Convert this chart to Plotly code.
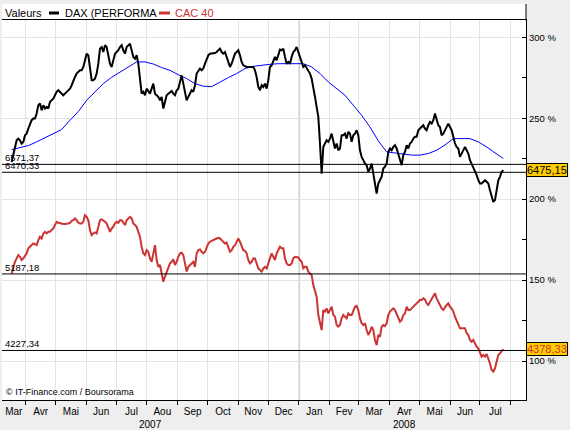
import pandas as pd
import plotly.graph_objects as go

# ---------------- data (values in % of the right-hand axis) ----------------
SERIES_START = "2007-03-17 22:00"
SERIES_END = "2008-07-24 14:00"

DAX_PCT = [
    223.0, 228.2, 231.3, 236.4, 237.4, 236.4, 234.4, 235.4, 239.5, 240.5,
    243.6, 245.7, 248.8, 249.8, 249.8, 252.9, 258.0, 259.1, 254.9, 258.0,
    256.0, 257.0, 256.0, 260.1, 261.1, 262.1, 264.2, 266.3, 267.3, 266.3,
    265.2, 264.2, 265.2, 266.3, 267.3, 268.3, 270.4, 273.5, 275.5, 277.6,
    278.6, 279.6, 279.6, 281.7, 285.8, 289.9, 288.9, 279.6, 273.5, 273.5,
    274.5, 277.6, 283.7, 293.0, 294.0, 290.9, 295.1, 294.0, 287.9, 283.7,
    281.7, 286.8, 289.9, 290.9, 292.0, 294.0, 295.1, 292.0, 289.9, 294.0,
    295.1, 296.1, 292.0, 287.9, 286.8, 288.9, 283.7, 273.5, 265.2, 266.3,
    264.2, 268.3, 266.3, 265.2, 268.3, 271.4, 265.2, 264.2, 263.2, 261.1,
    263.2, 256.0, 260.1, 264.2, 265.2, 266.3, 266.9, 265.2, 264.2, 267.3,
    268.3, 272.4, 276.5, 271.4, 266.3, 261.1, 263.2, 265.2, 267.3, 266.3,
    270.4, 277.6, 279.6, 280.7, 279.6, 280.7, 283.7, 286.8, 288.9, 289.9,
    289.9, 289.9, 290.3, 290.9, 292.0, 293.0, 290.9, 289.9, 290.9, 287.9,
    284.8, 281.7, 283.7, 286.8, 289.9, 290.9, 292.0, 288.9, 284.8, 282.7,
    282.1, 281.7, 281.7, 281.7, 281.7, 281.7, 279.6, 275.5, 269.3, 267.3,
    270.4, 269.3, 271.4, 268.3, 273.5, 281.7, 282.7, 285.8, 287.9, 285.8,
    288.9, 292.4, 292.0, 293.0, 287.9, 283.7, 284.8, 283.7, 287.9, 290.9,
    292.0, 294.0, 290.9, 287.9, 283.7, 281.7, 282.7, 280.7, 278.6, 277.6,
    274.5, 267.3, 263.2, 257.0, 250.8, 234.4, 215.8, 232.3, 234.4, 236.4,
    235.4, 237.4, 240.5, 235.4, 231.3, 234.4, 230.2, 231.3, 239.5, 239.5,
    240.5, 237.4, 241.6, 240.5, 235.4, 239.5, 240.5, 242.6, 239.5, 230.2,
    226.1, 224.1, 222.0, 221.0, 216.9, 218.9, 222.0, 215.8, 209.7, 203.5,
    209.7, 211.7, 213.8, 218.9, 220.0, 222.0, 229.2, 231.3, 230.2, 232.3,
    233.3, 231.3, 228.2, 224.1, 221.0, 227.2, 229.2, 233.3, 231.3, 234.4,
    235.4, 237.4, 238.5, 238.5, 242.6, 243.6, 244.6, 245.7, 243.6, 242.6,
    245.7, 247.7, 246.7, 248.8, 252.9, 248.8, 245.7, 244.6, 239.5, 240.5,
    242.6, 244.6, 246.7, 244.6, 242.6, 238.5, 234.4, 232.3, 231.3, 226.1,
    228.2, 230.2, 232.3, 230.2, 228.2, 224.1, 222.0, 220.0, 217.9, 214.8,
    211.7, 209.7, 209.7, 210.7, 211.7, 210.7, 209.7, 205.5, 201.4, 198.3,
    199.4, 206.6, 211.7, 213.8, 216.9, 217.9,
]

CAC_PCT = [
    154.1, 158.2, 161.3, 163.4, 165.4, 164.4, 162.4, 163.4, 165.4, 166.5,
    169.6, 170.6, 171.6, 172.6, 172.2, 171.6, 174.7, 176.8, 175.7, 178.8,
    179.8, 178.8, 179.8, 179.8, 180.9, 181.9, 184.0, 186.0, 185.4, 185.0,
    184.6, 184.6, 184.6, 184.6, 185.0, 185.4, 186.6, 187.0, 188.1, 187.0,
    185.4, 185.0, 185.0, 186.0, 190.1, 189.1, 187.0, 180.9, 177.8, 178.8,
    179.4, 178.8, 182.9, 187.0, 187.5, 187.0, 186.0, 185.0, 182.9, 179.8,
    181.9, 182.9, 185.0, 186.0, 185.4, 187.0, 187.0, 185.0, 184.0, 187.0,
    188.1, 189.1, 188.1, 185.0, 184.0, 182.9, 179.8, 176.8, 170.6, 166.5,
    165.4, 168.5, 167.5, 163.4, 161.3, 167.5, 171.6, 162.4, 158.2, 159.3,
    153.1, 149.0, 152.1, 155.2, 158.2, 160.3, 161.3, 162.8, 159.3, 161.3,
    164.4, 166.5, 166.9, 165.4, 160.3, 155.2, 158.2, 159.3, 160.7, 161.3,
    158.2, 166.5, 168.5, 168.9, 167.5, 166.5, 167.5, 170.6, 172.6, 173.7,
    174.3, 174.7, 175.1, 175.7, 176.1, 175.7, 174.7, 173.7, 172.6, 173.1,
    170.6, 167.5, 168.5, 170.6, 171.6, 173.7, 175.7, 173.7, 170.6, 168.5,
    168.1, 166.5, 162.4, 160.3, 161.3, 163.4, 163.4, 160.3, 157.2, 156.2,
    155.2, 157.2, 158.2, 157.2, 160.3, 163.4, 166.5, 164.4, 162.4, 166.5,
    168.9, 170.6, 169.6, 169.6, 163.4, 160.3, 159.3, 159.3, 160.3, 163.4,
    164.4, 164.4, 164.0, 162.4, 161.3, 157.2, 158.2, 158.2, 155.2, 154.1,
    153.1, 146.9, 143.8, 139.7, 128.4, 124.3, 119.1, 131.5, 130.5, 132.5,
    129.4, 131.5, 133.5, 128.4, 127.4, 122.2, 121.2, 122.2, 126.3, 128.4,
    127.4, 126.3, 129.4, 128.4, 128.4, 130.5, 133.5, 134.0, 131.5, 126.3,
    123.3, 122.2, 123.3, 119.1, 116.1, 118.1, 121.2, 119.1, 113.0, 109.9,
    116.1, 115.0, 121.2, 122.2, 121.6, 123.3, 128.4, 130.5, 131.5, 132.5,
    131.5, 129.4, 127.4, 124.3, 125.3, 128.4, 129.4, 133.5, 131.5, 131.5,
    132.5, 133.5, 134.6, 135.6, 136.6, 137.7, 137.7, 138.7, 138.1, 135.6,
    134.6, 136.6, 137.7, 139.7, 141.8, 138.7, 136.6, 134.6, 132.5, 131.5,
    133.5, 134.6, 135.6, 133.5, 132.5, 130.5, 127.4, 125.3, 123.3, 120.2,
    120.2, 120.2, 120.2, 117.1, 116.1, 113.0, 111.9, 113.0, 110.9, 108.9,
    107.8, 104.7, 102.7, 103.7, 102.7, 104.3, 101.6, 98.5, 94.4, 93.4,
    95.5, 100.6, 103.7, 104.7, 105.8, 107.4,
]

DAX_MA_PCT = [
    230.6, 231.7, 233.1, 235.4, 237.9, 240.5, 243.0, 248.8, 254.1, 261.1,
    266.5, 271.4, 275.3, 278.6, 281.9, 284.8, 284.8, 283.5, 281.3, 279.6,
    276.9, 274.5, 271.4, 269.8, 269.5, 272.4, 275.1, 277.6, 280.7, 282.1,
    282.9, 283.3, 283.7, 283.7, 283.7, 283.7, 281.7, 277.6, 272.4, 268.3,
    264.2, 258.0, 251.8, 244.6, 236.0, 229.2, 228.6, 227.8, 227.2, 227.2,
    228.2, 230.2, 233.5, 237.4, 237.4, 237.4, 235.4, 232.3, 228.6, 225.1,
]

REF_LEVELS_PCT = [221.5, 216.6, 153.8, 106.5]
REF_LABELS = ["6571,37", "6470,33", "5187,18", "4227,34"]

LAST_LABELS = ["6475,15", "4378,33"]

MONTH_LABELS = ["Mar", "Avr", "Mai", "Jun", "Jul", "Aou", "Sep", "Oct", "Nov",
                "Dec", "Jan", "Fev", "Mar", "Avr", "Mai", "Jun", "Jul"]
YEAR_LABELS = ["2007", "2008"]

Y_TICKS = [100, 150, 200, 250, 300]
Y_MINOR = [125, 175, 225, 275]

# ---------------- style / geometry ----------------
W, H = 570, 430
ML, MR, MT, MB = 2, 44, 20, 30
PW, PH = W - ML - MR, H - MT - MB
X_RANGE = [pd.Timestamp("2007-03-08 05:00"), pd.Timestamp("2008-08-16 10:00")]
Y_RANGE = [75.9, 310.7]
FONT = "Liberation Sans, Arial, sans-serif"
RED = "#CC3333"
GRID = "#E4E4E4"


def px_x(x):
    return (x - ML) / PW


def px_y(y):
    return (H - MB - y) / PH


dax_dates = pd.date_range(SERIES_START, SERIES_END, periods=len(DAX_PCT))
cac_dates = pd.date_range(SERIES_START, SERIES_END, periods=len(CAC_PCT))
ma_dates = pd.date_range(SERIES_START, SERIES_END, periods=len(DAX_MA_PCT))

month_starts = pd.date_range("2007-03-01", "2008-08-01", freq="MS")
mids = []
for i in range(len(MONTH_LABELS)):
    a = max(month_starts[i], X_RANGE[0])
    b = month_starts[i + 1]
    mids.append(a + (b - a) / 2)
year_start = pd.Timestamp("2008-01-01")
year_mids = [X_RANGE[0] + (year_start - X_RANGE[0]) / 2,
             year_start + (pd.Timestamp("2008-08-01") - year_start) / 2]

fig = go.Figure()
fig.add_trace(go.Scatter(x=ma_dates, y=DAX_MA_PCT, mode="lines",
                         line=dict(color="#0000FF", width=1), showlegend=False,
                         hoverinfo="skip"))
fig.add_trace(go.Scatter(x=cac_dates, y=CAC_PCT, mode="lines", name="CAC 40",
                         line=dict(color=RED, width=2), showlegend=False))
fig.add_trace(go.Scatter(x=dax_dates, y=DAX_PCT, mode="lines", name="DAX (PERFORMA",
                         line=dict(color="black", width=2), showlegend=False))

shapes = []
# year separator
shapes.append(dict(type="line", xref="x", yref="paper", x0=year_start, x1=year_start,
                   y0=0, y1=1, line=dict(color="#A0A0A0", width=1), layer="below"))
# legend band
shapes.append(dict(type="rect", xref="paper", yref="paper", x0=0, x1=1,
                   y0=1, y1=px_y(4), fillcolor="white", line=dict(width=0), layer="below"))
shapes.append(dict(type="line", xref="paper", yref="paper", x0=1, x1=1,
                   y0=1, y1=px_y(4), line=dict(color="black", width=1)))
# legend swatches
shapes.append(dict(type="rect", xref="paper", yref="paper", x0=px_x(49), x1=px_x(59),
                   y0=px_y(14.5), y1=px_y(11.5), fillcolor="black", line=dict(width=0)))
shapes.append(dict(type="rect", xref="paper", yref="paper", x0=px_x(159), x1=px_x(170),
                   y0=px_y(14.5), y1=px_y(11.5), fillcolor=RED, line=dict(width=0)))
# reference levels
for lv in REF_LEVELS_PCT:
    shapes.append(dict(type="line", xref="paper", yref="y", x0=0, x1=1, y0=lv, y1=lv,
                       line=dict(color="black", width=1)))

ann = []
legend_y = px_y(12.5)
ann.append(dict(text="Valeurs", xref="paper", yref="paper", x=px_x(3), y=legend_y,
                xanchor="left", yanchor="middle", showarrow=False,
                font=dict(family=FONT, size=11, color="black")))
ann.append(dict(text="DAX (PERFORMA", xref="paper", yref="paper", x=px_x(63), y=legend_y,
                xanchor="left", yanchor="middle", showarrow=False,
                font=dict(family=FONT, size=11, color="black")))
ann.append(dict(text="CAC 40", xref="paper", yref="paper", x=px_x(173), y=legend_y,
                xanchor="left", yanchor="middle", showarrow=False,
                font=dict(family=FONT, size=11, color=RED)))
for lv, lab in zip(REF_LEVELS_PCT, REF_LABELS):
    ann.append(dict(text=lab, xref="paper", yref="y", x=px_x(4), y=lv,
                    xanchor="left", yanchor="bottom", showarrow=False, borderpad=0,
                    font=dict(family=FONT, size=9.5, color="black")))
for series, lab, col in [(DAX_PCT, LAST_LABELS[0], "black"), (CAC_PCT, LAST_LABELS[1], RED)]:
    ann.append(dict(text=lab, xref="paper", yref="y", x=1, y=series[-1],
                    xanchor="left", yanchor="middle", showarrow=False,
                    bgcolor="#FFCC00", bordercolor="black", borderwidth=1, borderpad=0,
                    font=dict(family=FONT, size=11, color=col)))
for xm, lab in zip(year_mids, YEAR_LABELS):
    ann.append(dict(text=lab, xref="x", yref="paper", x=xm, y=px_y(424),
                    xanchor="center", yanchor="middle", showarrow=False,
                    font=dict(family=FONT, size=10, color="black")))
ann.append(dict(text="© IT-Finance.com / Boursorama", xref="paper", yref="paper",
                x=px_x(4), y=px_y(392), xanchor="left", yanchor="middle", showarrow=False,
                font=dict(family=FONT, size=9, color="black")))

fig.update_layout(
    width=W, height=H,
    margin=dict(l=ML, r=MR, t=MT, b=MB, pad=0),
    paper_bgcolor="#EEEEEE", plot_bgcolor="white",
    showlegend=False,
    shapes=shapes, annotations=ann,
    xaxis=dict(type="date", range=X_RANGE, tickmode="array", tickvals=mids,
               ticktext=MONTH_LABELS, ticks="", showgrid=False, zeroline=False,
               showline=True, linecolor="black", linewidth=1, mirror=True,
               ticklabelstandoff=2,
               tickfont=dict(family=FONT, size=10, color="black"),
               minor=dict(tickmode="array", tickvals=list(month_starts[1:]),
                          ticks="outside", ticklen=4, tickcolor="black",
                          showgrid=True, gridcolor=GRID, gridwidth=1)),
    yaxis=dict(side="right", range=Y_RANGE, tickmode="array", tickvals=Y_TICKS,
               ticktext=[f"{v} %" for v in Y_TICKS], ticks="inside", ticklen=4,
               tickcolor="black", showgrid=True, gridcolor=GRID, gridwidth=1,
               zeroline=False, showline=True, linecolor="black", linewidth=1,
               tickfont=dict(family=FONT, size=9.5, color="black"),
               minor=dict(tickmode="array", tickvals=Y_MINOR, ticks="inside",
                          ticklen=4, tickcolor="black", showgrid=False)),
)

fig.write_html("out.html")
